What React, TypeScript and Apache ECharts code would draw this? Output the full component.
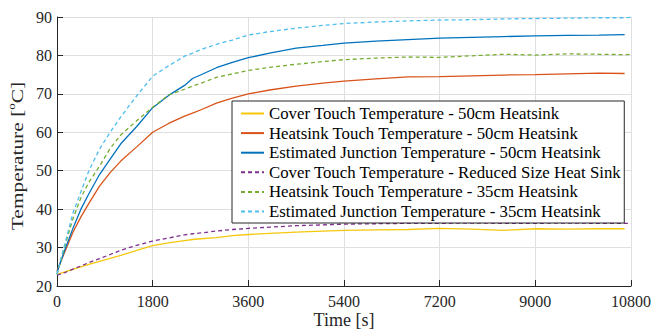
import React, { useEffect, useRef } from "react";
import * as echarts from "echarts";

const times = [0, 60, 150, 300, 450, 600, 800, 1000, 1200, 1500, 1800, 2100, 2400, 2550, 2700, 3000, 3300, 3600, 4000, 4500, 5000, 5400, 6000, 6600, 7200, 7800, 8400, 9000, 9600, 10200, 10680, 10800];

const cover50 = [23.1, 23.3, 23.7, 24.3, 25.0, 25.6, 26.4, 27.2, 28.0, 29.3, 30.5, 31.2, 31.8, 32.1, 32.3, 32.6, 33.1, 33.4, 33.7, 34.0, 34.3, 34.5, 34.6, 34.7, 35.0, 34.8, 34.5, 34.9, 34.8, 34.9, 34.9, null];
const heatsink50 = [24.0, 26.0, 29.0, 34.0, 38.0, 41.5, 46.0, 49.5, 52.5, 56.2, 60.0, 62.3, 64.2, 65.0, 65.8, 67.6, 68.9, 70.0, 71.0, 72.0, 72.8, 73.3, 73.9, 74.4, 74.5, 74.7, 74.9, 75.0, 75.2, 75.4, 75.3, null];
const junction50 = [23.5, 26.0, 29.5, 35.0, 40.0, 44.0, 49.0, 53.0, 57.0, 61.5, 66.4, 69.6, 72.2, 74.0, 74.9, 76.8, 78.2, 79.4, 80.6, 81.9, 82.6, 83.2, 83.7, 84.1, 84.5, 84.7, 84.9, 85.1, 85.2, 85.3, 85.4, null];
const coverReduced = [22.8, 23.1, 23.5, 24.4, 25.2, 26.1, 27.1, 28.2, 29.3, 30.6, 31.7, 32.5, 33.3, 33.6, 33.8, 34.3, 34.7, 35.0, 35.3, 35.7, 35.9, 36.1, 36.2, 36.3, 36.3, 36.4, 36.3, 36.3, 36.4, 36.3, 36.3, 36.3];
const heatsink35 = [23.0, 26.0, 30.5, 37.5, 43.0, 47.0, 51.2, 55.8, 59.3, 63.0, 66.5, 69.7, 71.2, 72.0, 72.7, 74.3, 75.2, 76.1, 76.9, 77.7, 78.4, 78.9, 79.3, 79.6, 79.5, 79.9, 80.3, 80.1, 80.4, 80.3, 80.2, 80.3];
const junction35 = [23.0, 26.5, 31.0, 39.0, 44.5, 50.0, 55.6, 60.0, 64.0, 69.5, 74.6, 77.3, 79.8, 80.6, 81.5, 82.9, 84.0, 85.3, 86.2, 87.1, 87.8, 88.3, 88.7, 89.0, 89.2, 89.3, 89.5, 89.6, 89.7, 89.8, 89.8, 89.9];

const seriesNames = [
  "Cover Touch Temperature - 50cm Heatsink",
  "Heatsink Touch Temperature - 50cm Heatsink",
  "Estimated Junction Temperature - 50cm Heatsink",
  "Cover Touch Temperature - Reduced Size Heat Sink",
  "Heatsink Touch Temperature - 35cm Heatsink",
  "Estimated Junction Temperature - 35cm Heatsink",
];
const seriesValues = [cover50, heatsink50, junction50, coverReduced, heatsink35, junction35];
const seriesColors = ["#F5C80C", "#D95319", "#0072BD", "#7E2F8E", "#77AC30", "#4DBEEE"];
const seriesDashed = [false, false, false, true, true, true];

const xTicks = { min: 0, max: 10800, interval: 1800 };
const yTicks = { min: 20, max: 90, interval: 10 };
const xTitle = "Time [s]";
const yTitle = "Temperature [{sup|o}C]";

const FONT = "Liberation Serif";
const TXT = "#262626";

export default function App() {
  const ref = useRef<HTMLDivElement>(null);
  useEffect(() => {
    if (!ref.current) return;
    document.body.style.margin = "0";
    const chart = echarts.init(ref.current, undefined, { renderer: "svg" });
    const series = seriesNames.map((name, i) => ({
      name,
      type: "line",
      showSymbol: false,
      symbol: "none",
      data: times.map((t, k) => [t, seriesValues[i][k]]).filter((p) => p[1] !== null),
      lineStyle: {
        color: seriesColors[i],
        width: 1.3,
        type: seriesDashed[i] ? [4, 3] : "solid",
      },
      itemStyle: { color: seriesColors[i] },
    }));
    chart.setOption({
      animation: false,
      grid: { left: 57, right: 22, top: 17, bottom: 46, containLabel: false },
      legend: {
        orient: "vertical",
        left: 232,
        top: 101,
        itemWidth: 23,
        itemHeight: 14,
        itemGap: 2.6,
        padding: [4, 3, 3, 8],
        backgroundColor: "#ffffff",
        borderColor: TXT,
        borderWidth: 1,
        itemStyle: { opacity: 0, borderWidth: 0 },
        textStyle: { fontFamily: FONT, fontSize: 16.8, color: "#000" },
        data: seriesNames,
      },
      xAxis: {
        type: "value",
        min: xTicks.min,
        max: xTicks.max,
        interval: xTicks.interval,
        name: xTitle,
        nameLocation: "middle",
        nameGap: 25,
        nameMoveOverlap: false,
        nameTextStyle: { fontFamily: FONT, fontSize: 18, color: TXT },
        axisLine: { show: true, onZero: false, lineStyle: { color: TXT, width: 1 } },
        axisTick: { show: true, inside: true, length: 6, lineStyle: { color: TXT } },
        axisLabel: { fontFamily: FONT, fontSize: 16, color: TXT, margin: 7, formatter: (v: number) => String(v) },
        splitLine: { show: true, lineStyle: { color: "#DFDFDF", width: 1 } },
      },
      yAxis: {
        type: "value",
        min: yTicks.min,
        max: yTicks.max,
        interval: yTicks.interval,
        axisLine: { show: true, lineStyle: { color: TXT, width: 1 } },
        axisTick: { show: true, inside: true, length: 6, lineStyle: { color: TXT } },
        axisLabel: { fontFamily: FONT, fontSize: 16, color: TXT, margin: 5 },
        splitLine: { show: true, lineStyle: { color: "#DFDFDF", width: 1 } },
      },
      graphic: [
        {
          type: "text",
          x: 17,
          y: 156,
          rotation: Math.PI / 2,
          scaleX: 1.3,
          style: {
            text: yTitle,
            fontFamily: FONT,
            fontSize: 16.5,
            lineHeight: 20,
            fill: TXT,
            align: "center",
            verticalAlign: "middle",
            rich: { sup: { fontFamily: FONT, fontSize: 10, fill: TXT, verticalAlign: "top", lineHeight: 20 } },
          },
        },
      ],
      series,
    });
    return () => chart.dispose();
  }, []);
  return <div ref={ref} style={{ width: 654, height: 334 }} />;
}
